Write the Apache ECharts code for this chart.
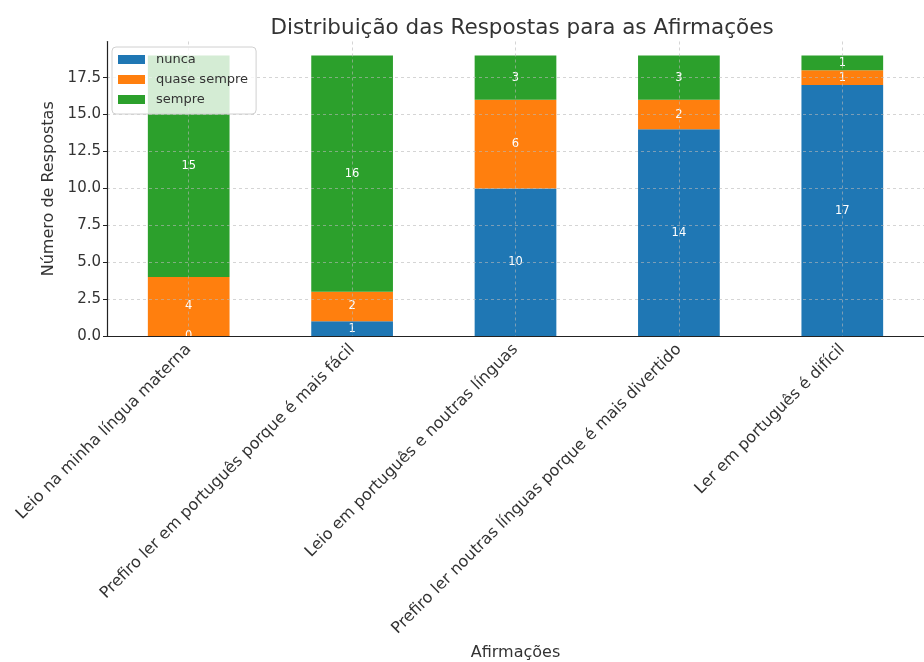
<!DOCTYPE html>
<html>
<head>
<meta charset="utf-8">
<script src="https://cdn.jsdelivr.net/npm/echarts@6/dist/echarts.min.js"></script>
<style>
  html, body { margin: 0; padding: 0; background: #fff; }
  #main { width: 924px; height: 662px; }
</style>
</head>
<body>
<div id="main"></div>
<script>
var categories = [
    'Leio na minha língua materna',
    'Prefiro ler em português porque é mais fácil',
    'Leio em português e noutras línguas',
    'Prefiro ler noutras línguas porque é mais divertido',
    'Ler em português é difícil'
];
var nunca = [0, 1, 10, 14, 17];
var quaseSempre = [4, 2, 6, 2, 1];
var sempre = [15, 16, 3, 3, 1];
var yTicks = [0, 2.5, 5, 7.5, 10, 12.5, 15, 17.5];

var font = 'DejaVu Sans';
var gridLine = {
    show : true,
    lineStyle : { color : 'rgba(185,185,185,0.6)', type : [3, 3], width : 1 }
};

function barSeries(name, data, color) {
    return {
        name : name,
        type : 'bar',
        stack : 'total',
        barWidth : '50%',
        data : data,
        itemStyle : { color : color },
        label : {
            show : true,
            position : 'inside',
            color : '#fff',
            fontFamily : font,
            fontSize : 11.5,
            formatter : '{c}'
        }
    };
}

var myChart = echarts.init(document.getElementById('main'));
var option = {
    animation : false,
    textStyle : { fontFamily : font },
    title : {
        text : 'Distribuição das Respostas para as Afirmações',
        left : 517,
        top : 12,
        textAlign : 'center',
        textStyle : { fontFamily : font, fontSize : 21.5, fontWeight : 'normal', color : '#333' }
    },
    legend : {
        orient : 'vertical',
        left : 112,
        top : 47,
        itemWidth : 27,
        itemHeight : 9,
        itemGap : 7,
        padding : [6, 8, 8, 6],
        backgroundColor : 'rgba(255,255,255,0.8)',
        borderColor : '#d0d0d0',
        borderWidth : 1,
        borderRadius : 4,
        textStyle : { fontFamily : font, fontSize : 13, color : '#333', padding : [0, 0, 0, 6] },
        data : [
            { name : 'nunca', icon : 'rect' },
            { name : 'quase sempre', icon : 'rect' },
            { name : 'sempre', icon : 'rect' }
        ]
    },
    grid : { left : 107, right : -11, top : 41.5, bottom : 324, containLabel : false },
    xAxis : {
        type : 'category',
        data : categories,
        z : 3,
        name : 'Afirmações',
        nameLocation : 'middle',
        nameGap : 309,
        nameTextStyle : { fontFamily : font, fontSize : 16, color : '#333' },
        axisLine : { lineStyle : { color : '#222', width : 1.2 } },
        axisTick : { alignWithLabel : true, length : 4, lineStyle : { color : '#222' } },
        axisLabel : {
            rotate : 45,
            interval : 0,
            margin : 11,
            fontFamily : font,
            fontSize : 16,
            color : '#333'
        },
        splitLine : Object.assign({ alignWithLabel : true }, gridLine)
    },
    yAxis : {
        type : 'value',
        min : 0,
        max : 19.95,
        interval : 2.5,
        z : 3,
        name : 'Número de Respostas',
        nameLocation : 'middle',
        nameGap : 42,
        nameTextStyle : { fontFamily : font, fontSize : 16, color : '#333' },
        axisLine : { show : true, lineStyle : { color : '#222', width : 1.2 } },
        axisTick : { show : true, length : 4, lineStyle : { color : '#222' } },
        axisLabel : {
            fontFamily : font,
            fontSize : 15,
            color : '#333',
            margin : 6,
            showMaxLabel : false,
            formatter : function (v) {
                return yTicks.indexOf(v) >= 0 ? v.toFixed(1) : '';
            }
        },
        splitLine : Object.assign({ showMaxLine : false }, gridLine)
    },
    series : [
        barSeries('nunca', nunca, '#1f77b4'),
        barSeries('quase sempre', quaseSempre, '#ff7f0e'),
        barSeries('sempre', sempre, '#2ca02c')
    ]
};
myChart.setOption(option);
</script>
</body>
</html>
